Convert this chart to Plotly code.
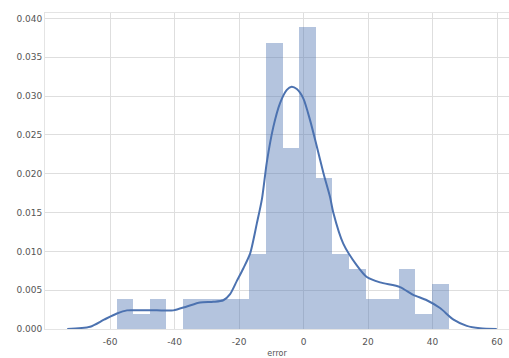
import plotly.graph_objects as go

# Histogram (density) — bin edges and counts
bin_start = -58.0
bin_width = 5.15
counts = [2, 1, 2, 0, 2, 2, 2, 2, 5, 19, 12, 20, 10, 5, 4, 2, 2, 4, 1, 3]
n_total = sum(counts)

# KDE curve points
kde_x = [-73.3, -66.2, -61.9, -57.9, -54.8, -50.7, -45.5, -40.4, -36.2, -32.1, -28.0,
         -24.9, -22.8, -20.7, -18.7, -16.6, -14.5, -12.9, -11.4, -9.4, -7.3, -5.2,
         -3.7, -2.1, -0.1, 2.0, 4.1, 6.2, 8.2, 9.2, 12.3, 16.5, 19.6, 23.7, 29.9,
         34.0, 38.2, 42.3, 46.5, 50.6, 54.7, 59.9]
kde_y = [0.0000, 0.0003, 0.0012, 0.0020, 0.0024, 0.0024, 0.0024, 0.0024, 0.0029, 0.0034, 0.0035,
         0.0037, 0.0045, 0.0062, 0.0078, 0.0097, 0.0136, 0.0168, 0.0215, 0.0260, 0.0291, 0.0308,
         0.0312, 0.0309, 0.0297, 0.0269, 0.0235, 0.0200, 0.0170, 0.0150, 0.0110, 0.0082, 0.0067, 0.0060, 0.0054,
         0.0044, 0.0037, 0.0027, 0.0012, 0.0004, 0.0001, 0.0000]

x_ticks = [-60, -40, -20, 0, 20, 40, 60]
y_ticks = [0.000, 0.005, 0.010, 0.015, 0.020, 0.025, 0.030, 0.035, 0.040]

centers = [bin_start + bin_width * (i + 0.5) for i in range(len(counts))]
dens = [c / (n_total * bin_width) for c in counts]

fig = go.Figure()
fig.add_trace(go.Bar(x=centers, y=dens, width=[bin_width] * len(counts),
                     marker=dict(color="rgba(76,114,176,0.42)", line=dict(width=0)),
                     showlegend=False, hoverinfo="skip"))
fig.add_trace(go.Scatter(x=kde_x, y=kde_y, mode="lines",
                         line=dict(color="#4C72B0", width=2, shape="spline", smoothing=0.7),
                         showlegend=False, hoverinfo="skip"))

fig.update_layout(
    width=509, height=358,
    margin=dict(l=45, r=0, t=13, b=29),
    paper_bgcolor="white", plot_bgcolor="white",
    bargap=0,
    font=dict(family="DejaVu Sans", size=9, color="#555555"),
    xaxis=dict(range=[-80.2, 63.7], tickvals=x_ticks, ticktext=[str(v) for v in x_ticks],
               showgrid=True, gridcolor="#dedede", gridwidth=1, zeroline=False,
               showline=True, linecolor="#e4e4e4", mirror=True, ticks="",
               ticklabelstandoff=4, tickfont=dict(size=9, color="#555555"),
               title=dict(text="error", font=dict(size=8, color="#555555"), standoff=6)),
    yaxis=dict(range=[0, 0.0407], tickvals=y_ticks, ticktext=["%.3f" % v for v in y_ticks],
               showgrid=True, gridcolor="#dedede", gridwidth=1, zeroline=False,
               showline=True, linecolor="#e4e4e4", mirror=True, ticks="",
               tickfont=dict(size=9, color="#555555")),
)

fig.write_html("out.html")
